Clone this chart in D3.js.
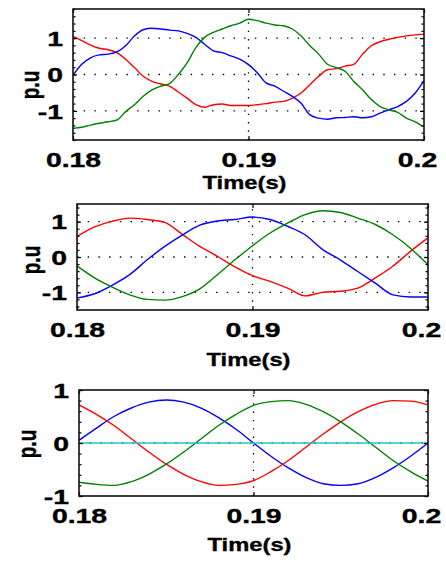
<!DOCTYPE html>
<html>
<head>
<meta charset="utf-8">
<script src="https://cdn.jsdelivr.net/npm/d3@7"></script>
<style>
  body { margin: 0; background: #fff; }
  svg text { font-family: "Liberation Sans", Arial, sans-serif; font-weight: bold; fill: #000; stroke: #000; stroke-width: 0.35px; }
</style>
</head>
<body>
<svg id="chart" width="446" height="561"></svg>
<script>
// time samples (s)
var timeFine = [0.18, 0.1805, 0.181, 0.1815, 0.182, 0.1825, 0.183, 0.1835, 0.184, 0.1845,
  0.185, 0.1855, 0.186, 0.1865, 0.187, 0.1875, 0.188, 0.1885, 0.189, 0.1895,
  0.19, 0.1905, 0.191, 0.1915, 0.192, 0.1925, 0.193, 0.1935, 0.194, 0.1945,
  0.195, 0.1955, 0.196, 0.1965, 0.197, 0.1975, 0.198, 0.1985, 0.199, 0.1995, 0.2];
var timeCoarse = [0.18, 0.181, 0.182, 0.183, 0.184, 0.185, 0.186, 0.187, 0.188, 0.189,
  0.19, 0.191, 0.192, 0.193, 0.194, 0.195, 0.196, 0.197, 0.198, 0.199, 0.2];

// top panel (p.u)
var topRed = [1.05, 0.93, 0.81, 0.72, 0.68, 0.6, 0.42, 0.19, -0.05, -0.19,
  -0.26, -0.32, -0.48, -0.65, -0.83, -0.9, -0.83, -0.81, -0.85, -0.85,
  -0.85, -0.83, -0.8, -0.76, -0.74, -0.65, -0.51, -0.28, -0.05, 0.13,
  0.16, 0.23, 0.28, 0.56, 0.79, 0.9, 0.97, 1.02, 1.06, 1.09, 1.11];
var topBlue = [-0.02, 0.28, 0.46, 0.54, 0.56, 0.62, 0.79, 1.06, 1.23, 1.27,
  1.25, 1.22, 1.2, 1.13, 1.02, 0.83, 0.65, 0.6, 0.51, 0.42,
  0.27, 0.05, -0.23, -0.32, -0.46, -0.6, -0.79, -1.11, -1.2, -1.23,
  -1.19, -1.18, -1.16, -1.19, -1.16, -1.06, -0.97, -0.88, -0.74, -0.51, -0.17];
var topGreen = [-1.48, -1.45, -1.39, -1.34, -1.3, -1.25, -1.02, -0.83, -0.6, -0.42,
  -0.32, -0.25, 0, 0.32, 0.74, 1.02, 1.16, 1.25, 1.34, 1.41,
  1.52, 1.48, 1.41, 1.36, 1.34, 1.25, 1.06, 0.79, 0.56, 0.28,
  0.19, 0.09, -0.19, -0.42, -0.69, -0.88, -0.97, -1.04, -1.2, -1.3, -1.44];

// middle panel (p.u)
var midRed = [0.58, 0.85, 1.01, 1.1, 1.06, 0.98, 0.64, 0.3, 0.02, -0.28,
  -0.53, -0.69, -0.88, -1.1, -1.0, -0.97, -0.88, -0.59, -0.26, 0.16, 0.54];
var midBlue = [-1.16, -1.04, -0.8, -0.5, -0.08, 0.3, 0.62, 0.9, 1.02, 1.06,
  1.13, 1.06, 0.87, 0.63, 0.21, -0.08, -0.41, -0.74, -1.07, -1.13, -1.13];
var midGreen = [-0.25, -0.59, -0.85, -1.07, -1.2, -1.22, -1.12, -0.9, -0.5, -0.08,
  0.32, 0.68, 0.96, 1.2, 1.31, 1.26, 1.1, 0.92, 0.63, 0.25, -0.22];

// bottom panel (p.u)
var botBlue = [0.05, 0.28, 0.5, 0.66, 0.77, 0.81, 0.77, 0.66, 0.48, 0.26,
  0, -0.25, -0.47, -0.65, -0.77, -0.8, -0.77, -0.65, -0.47, -0.25, 0];
var botRed = [0.72, 0.54, 0.33, 0.08, -0.17, -0.4, -0.59, -0.73, -0.8, -0.78,
  -0.71, -0.54, -0.33, -0.08, 0.17, 0.4, 0.59, 0.73, 0.8, 0.79, 0.72];
var botGreen = [-0.74, -0.78, -0.8, -0.73, -0.59, -0.4, -0.17, 0.08, 0.33, 0.54,
  0.71, 0.78, 0.8, 0.73, 0.59, 0.4, 0.17, -0.08, -0.33, -0.54, -0.72];
var botCyan = [0, 0, 0, 0, 0, 0, 0, 0, 0, 0, 0, 0, 0, 0, 0, 0, 0, 0, 0, 0, 0];

// ticks
var xTicks = [0.18, 0.19, 0.2];
var xTickLabels = ['0.18', '0.19', '0.2'];
var yTicks = [-1, 0, 1];
var yTickLabels = ['-1', '0', '1'];
var xLabel = 'Time(s)';
var yLabel = 'p.u';

var RED = '#ff0000', BLUE = '#0000ff', GREEN = '#008000', CYAN = '#1fc8c8';

var panels = [
  { left: 73, right: 424, top: 9, bottom: 140, ymin: -1.8, ymax: 1.8, ylabY: 85, ylabX: 30, xlabDy: 49,
    series: [{ t: timeFine, v: topRed, c: RED }, { t: timeFine, v: topBlue, c: BLUE }, { t: timeFine, v: topGreen, c: GREEN }] },
  { left: 77, right: 428, top: 204, bottom: 310, ymin: -1.5, ymax: 1.5, ylabY: 260, ylabX: 31, xlabDy: 56,
    series: [{ t: timeCoarse, v: midRed, c: RED }, { t: timeCoarse, v: midBlue, c: BLUE }, { t: timeCoarse, v: midGreen, c: GREEN }] },
  { left: 79, right: 428, top: 390, bottom: 496, ymin: -1, ymax: 1, ylabY: 444, ylabX: 27, xlabDy: 55,
    series: [{ t: timeCoarse, v: botBlue, c: BLUE }, { t: timeCoarse, v: botRed, c: RED }, { t: timeCoarse, v: botGreen, c: GREEN }, { t: timeCoarse, v: botCyan, c: CYAN, w: 1.7 }] }
];

var svg = d3.select('#chart');

panels.forEach(function(p) {
  var x = d3.scaleLinear().domain([0.18, 0.2]).range([p.left, p.right]);
  var y = d3.scaleLinear().domain([p.ymin, p.ymax]).range([p.bottom, p.top]);
  var g = svg.append('g');

  // dotted grid
  yTicks.filter(function(d) { return d > p.ymin && d < p.ymax; }).forEach(function(d) {
    g.append('line')
      .attr('x1', p.left).attr('x2', p.right)
      .attr('y1', y(d)).attr('y2', y(d))
      .attr('stroke', '#000').attr('stroke-width', 1.3)
      .attr('stroke-dasharray', '1.4,9.3');
  });
  g.append('line')
    .attr('x1', x(0.19)).attr('x2', x(0.19))
    .attr('y1', p.bottom).attr('y2', p.top)
    .attr('stroke', '#000').attr('stroke-width', 1.3)
    .attr('stroke-dasharray', '1.4,6.9');

  // curves
  p.series.forEach(function(s) {
    var line = d3.line()
      .x(function(d, i) { return x(s.t[i]); })
      .y(function(d) { return y(d); })
      .curve(d3.curveMonotoneX);
    g.append('path')
      .attr('d', line(s.v))
      .attr('fill', 'none')
      .attr('stroke', s.c)
      .attr('stroke-width', s.w || 1.4);
  });

  // minor ticks on the side edges
  var minor = d3.range(Math.ceil(p.ymin / 0.2), Math.floor(p.ymax / 0.2) + 1).map(function(k) { return k * 0.2; });
  g.append('g').attr('transform', 'translate(' + p.right + ',0)')
    .call(d3.axisRight(y).tickValues(minor).tickSizeInner(-2.5).tickSizeOuter(0).tickFormat(''));
  g.append('g').attr('transform', 'translate(' + p.left + ',0)')
    .call(d3.axisLeft(y).tickValues(minor).tickSizeInner(-2.5).tickSizeOuter(0).tickFormat(''));

  // major axes
  var ax = g.append('g').attr('transform', 'translate(0,' + p.bottom + ')')
    .call(d3.axisBottom(x).tickValues(xTicks).tickSizeInner(-4).tickSizeOuter(0)
      .tickFormat(function(d, i) { return xTickLabels[i]; }));
  ax.selectAll('text')
    .attr('y', 0).attr('dy', 0)
    .attr('transform', function(d, i) { return 'translate(' + (i === 2 ? -7 : 0) + ',27) scale(1.42,1)'; })
    .style('font-size', '20px');
  g.append('g').attr('transform', 'translate(0,' + p.top + ')')
    .call(d3.axisTop(x).tickValues(xTicks).tickSizeInner(-4).tickSizeOuter(0).tickFormat(''));

  var ay = g.append('g').attr('transform', 'translate(' + p.left + ',0)')
    .call(d3.axisLeft(y).tickValues(yTicks).tickSizeInner(-4).tickSizeOuter(0)
      .tickFormat(function(d, i) { return yTickLabels[i]; }));
  ay.selectAll('text')
    .attr('x', 0).attr('dy', '0.36em')
    .attr('transform', 'translate(-10,0) scale(1.42,1)')
    .style('font-size', '20px');
  g.append('g').attr('transform', 'translate(' + p.right + ',0)')
    .call(d3.axisRight(y).tickValues(yTicks).tickSizeInner(-4).tickSizeOuter(0).tickFormat(''));

  g.selectAll('.domain').remove();
  g.selectAll('.tick line').attr('stroke', '#000').attr('stroke-width', 1.2);

  // box
  g.append('rect')
    .attr('x', p.left).attr('y', p.top)
    .attr('width', p.right - p.left).attr('height', p.bottom - p.top)
    .attr('fill', 'none').attr('stroke', '#111').attr('stroke-width', 1.6);

  // labels
  g.append('text')
    .attr('text-anchor', 'middle')
    .attr('transform', 'translate(' + ((p.left + p.right) / 2 - 4) + ',' + (p.bottom + p.xlabDy) + ') scale(1.25,1)')
    .style('font-size', '19px')
    .text(xLabel);
  g.append('text')
    .attr('text-anchor', 'middle')
    .attr('dominant-baseline', 'central')
    .attr('transform', 'translate(' + p.ylabX + ',' + p.ylabY + ') scale(1.4,1) rotate(-90)')
    .style('font-size', '19px')
    .text(yLabel);
});
</script>
</body>
</html>
